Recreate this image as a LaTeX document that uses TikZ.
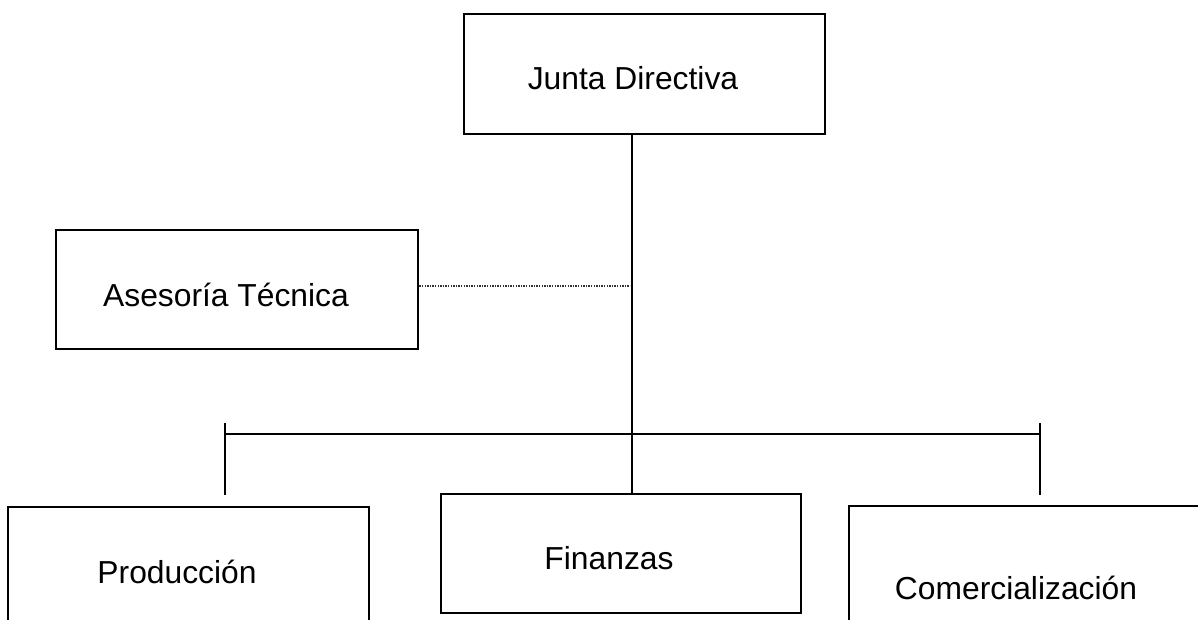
\documentclass[tikz,border=0pt]{standalone}
\usepackage{fontspec}
\setmainfont{Liberation Sans}
\begin{document}
\begin{tikzpicture}[x=1pt,y=-1pt,
  orgbox/.style={draw=black,line width=2.8pt,rectangle,inner sep=0pt},
  lbl/.style={anchor=base,inner sep=0pt,font=\fontsize{31.8}{36}\selectfont},
  conn/.style={draw=black,line width=2.7pt},
  bus/.style={draw=black,line width=2.3pt},
  staff/.style={draw=black!80,line width=1.6pt,dash pattern=on 1.4pt off 1.2pt}]
\clip (0,0) rectangle (1198,620);
\fill[white] (0,0) rectangle (1198,620);
% boxes
\node[orgbox,minimum width=361pt,minimum height=120pt] (jd) at (644.5,74) {};
\node[orgbox,minimum width=362pt,minimum height=119pt] (ase) at (237,289.5) {};
\node[orgbox,minimum width=361pt,minimum height=173pt] (pro) at (188.5,593.5) {};
\node[orgbox,minimum width=360pt,minimum height=119pt] (fin) at (621,553.5) {};
\node[orgbox,minimum width=366pt,minimum height=174pt] (com) at (1032,593) {};
% labels
\node[lbl] (jdt) at (633,90) {Junta Directiva};
\node[lbl] (aset) at (226,306) {Asesoría Técnica};
\node[lbl] (prot) at (177,583) {Producción};
\node[lbl] (fint) at (609,569) {Finanzas};
\node[lbl] (comt) at (1016,599) {Comercialización};
% connectors
\coordinate (spine) at (632,0);
\coordinate (staffpt) at (630,286);
\coordinate (busL) at (225,434);
\coordinate (busR) at (1040,434);
\coordinate (busLtop) at (225,423);
\coordinate (busRtop) at (1040,423);
\coordinate (dropL) at (225,495);
\coordinate (dropR) at (1040,495);
\draw[conn] (jd.south -| spine) -- (fin.north -| spine);
\draw[staff] (ase.east |- staffpt) -- (staffpt);
\draw[bus] (busL) -- (busR);
\draw[conn] (busLtop) -- (dropL);
\draw[conn] (busRtop) -- (dropR);
\end{tikzpicture}
\end{document}
